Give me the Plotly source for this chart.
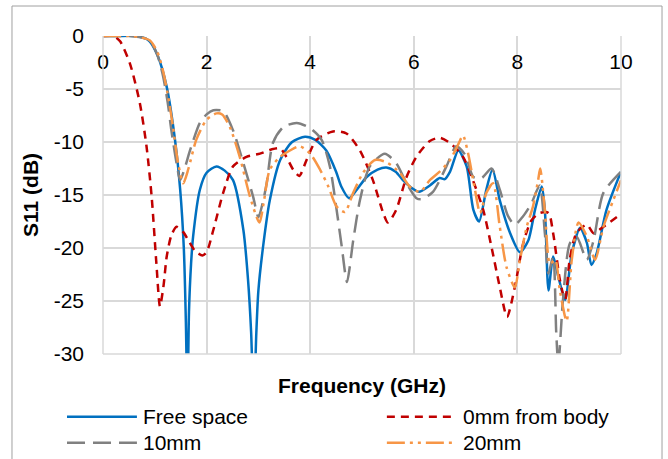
import plotly.graph_objects as go

# ---------------- data ----------------
f_free = [0, 0.3, 0.6, 0.8, 0.9, 1.05, 1.23, 1.39, 1.49, 1.56, 1.60, 1.63, 1.66, 1.70, 1.74, 1.87, 2.0, 2.19, 2.35,
          2.51, 2.71, 2.80, 2.86, 2.91, 2.96, 3.0, 3.1, 3.22, 3.42, 3.65, 3.9, 4.1, 4.31, 4.5, 4.6, 4.75, 4.9,
          5.09, 5.3, 5.47, 5.65, 5.79, 5.95, 6.1, 6.31, 6.5, 6.6, 6.7, 6.86, 7.02, 7.15, 7.26, 7.4, 7.52, 7.66,
          7.86, 8.05, 8.21, 8.34, 8.47, 8.53, 8.6, 8.69, 8.79, 8.92, 9.05, 9.21, 9.34, 9.43, 9.53, 9.72, 10.0]
s_free = [0, 0, 0, -0.2, -0.5, -1.8, -4.8, -9.8, -14.5, -20, -27, -35, -26, -21.5, -18.9, -14.5, -12.9, -12.3, -12.7,
          -13.6, -18.3, -23, -28, -35, -28, -24, -19.5, -15.5, -11.7, -10.0, -9.5, -9.8, -10.8, -12.8, -14.2, -15.3, -14.5,
          -13.3, -12.6, -12.4, -12.8, -13.6, -14.3, -14.7, -14.1, -13.4, -13.5, -12.8, -10.8, -12.3, -16.4, -17.5, -14.5, -12.6, -15.5,
          -18.6, -20.4, -19.3, -16.4, -14.2, -16.4, -24, -20.8, -22.7, -24.9, -20.5, -18.1, -19.5, -21.6, -20.5, -16.4, -12.8]

f_0mm = [0, 0.2, 0.33, 0.52, 0.71, 0.84, 0.94, 1.03, 1.1, 1.17, 1.23, 1.32, 1.42, 1.55, 1.65, 1.78, 1.92, 2.0, 2.13,
         2.32, 2.51, 2.77, 3.03, 3.25, 3.42, 3.54, 3.67, 3.79, 3.93, 4.12, 4.44, 4.7, 4.96, 5.21, 5.41, 5.5, 5.66,
         5.86, 6.05, 6.31, 6.5, 6.7, 6.95, 7.14, 7.34, 7.5, 7.66, 7.8, 7.95, 8.11, 8.27, 8.43, 8.6, 8.69, 8.82,
         8.92, 9.01, 9.14, 9.34, 9.47, 9.66, 10.0]
s_0mm = [0, 0, -0.5, -2.6, -6.3, -10.4, -15.2, -21.4, -25.5, -23.5, -20.8, -18.8, -18.0, -18.5, -19.3, -20.3, -20.7, -20.4, -18.3,
         -14.8, -12.3, -11.4, -11.1, -10.7, -10.6, -11.4, -12.6, -13.2, -11.7, -9.8, -9.0, -9.2, -10.8, -13.6, -16.7, -17.6, -16.4,
         -13.3, -11.4, -9.9, -9.6, -10.1, -11.4, -13.6, -16.4, -19.9, -23.7, -26.5, -23.7, -19.6, -17.4, -16.7, -16.7, -18.6, -23.0,
         -24.9, -21.1, -18.6, -17.8, -18.6, -18.0, -16.8]

f_10mm = [0, 0.5, 0.7, 0.9, 1.05, 1.16, 1.25, 1.32, 1.42, 1.49, 1.57, 1.68, 1.87, 2.0, 2.13, 2.32, 2.51, 2.71, 2.9,
          3.0, 3.08, 3.16, 3.28, 3.48, 3.74, 4.0, 4.22, 4.38, 4.51, 4.61, 4.71, 4.83, 4.96, 5.15, 5.44, 5.66, 5.86,
          6.05, 6.15, 6.37, 6.63, 6.82, 6.99, 7.15, 7.31, 7.5, 7.66, 7.82, 7.95, 8.11, 8.27, 8.43, 8.53, 8.6, 8.69,
          8.75, 8.79, 8.88, 9.01, 9.14, 9.34, 9.47, 9.66, 10.0]
s_10mm = [0, 0, -0.1, -0.4, -1.8, -3.8, -6.3, -8.9, -12.0, -13.6, -12.6, -10.8, -8.2, -7.4, -7.0, -7.1, -8.9, -12.0, -15.2,
          -17.1, -15.8, -13.9, -10.1, -8.6, -8.2, -8.7, -9.8, -12.3, -16.4, -19.9, -23.2, -19.3, -15.5, -12.3, -11.1, -12.0, -13.9,
          -15.3, -15.4, -14.7, -12.3, -10.4, -11.2, -13.3, -13.4, -12.5, -14.5, -17.0, -17.8, -17.0, -15.8, -14.1, -18.6, -22.4, -20.8,
          -28, -31, -24.9, -19.6, -18.9, -21.1, -19.3, -14.8, -12.8]

f_20mm = [0, 0.5, 0.7, 0.9, 1.05, 1.16, 1.25, 1.35, 1.45, 1.55, 1.65, 1.8, 2.0, 2.19, 2.3, 2.45, 2.64, 2.84, 3.02,
          3.1, 3.22, 3.42, 3.61, 3.8, 4.0, 4.19, 4.35, 4.51, 4.67, 4.83, 5.02, 5.25, 5.47, 5.73, 5.92, 6.12, 6.31,
          6.5, 6.7, 6.86, 6.95, 7.05, 7.18, 7.28, 7.4, 7.53, 7.66, 7.79, 7.95, 8.05, 8.18, 8.3, 8.4, 8.44, 8.53,
          8.63, 8.73, 8.82, 8.95, 9.05, 9.18, 9.34, 9.5, 9.66, 9.85, 10.0]
s_20mm = [0, 0, -0.1, -0.4, -1.5, -3.3, -5.5, -8.5, -12.0, -13.9, -12.5, -9.8, -7.9, -7.3, -7.4, -8.6, -11.4, -15.2, -17.6,
          -15.8, -12.6, -11.4, -10.8, -10.4, -11.1, -12.6, -14.2, -16.1, -16.6, -14.8, -12.9, -11.7, -11.9, -12.9, -14.2, -14.7, -13.6,
          -12.8, -11.7, -10.2, -9.4, -11.1, -14.5, -16.7, -14.8, -13.9, -18.0, -21.8, -23.7, -21.1, -18.0, -16.1, -13.6, -12.5, -16.4,
          -21.5, -21.1, -24.0, -26.9, -21.1, -17.6, -18.9, -21.1, -18.0, -15.5, -13.6]

series_names = ["Free space", "0mm from body", "10mm", "20mm"]
series_colors = ["#0070C0", "#C00000", "#808080", "#F79646"]
series_dash = ["solid", "8px,6px", "18px,8px", "18px,5px,3px,5px,3px,5px"]

x_ticks = [0, 2, 4, 6, 8, 10]
y_ticks = [0, -5, -10, -15, -20, -25, -30]
y_tick_text = ["0", "-5", "-10", "-15", "-20", "-25", "-30"]

FONT = "Liberation Sans, Arial, sans-serif"

fig = go.Figure()
data = [(f_free, s_free), (f_0mm, s_0mm), (f_10mm, s_10mm), (f_20mm, s_20mm)]
for (fx, sy), name, col, dash in zip(data, series_names, series_colors, series_dash):
    fig.add_trace(go.Scatter(x=fx, y=sy, mode="lines", name=name, showlegend=False,
                             line=dict(color=col, width=2.5, dash=dash, shape="spline", smoothing=0.7)))

fig.update_layout(
    width=668, height=459,
    margin=dict(l=103, r=47, t=36, b=105),
    paper_bgcolor="white", plot_bgcolor="white",
    font=dict(family=FONT, size=21, color="#000000"),
    showlegend=False,
)
fig.update_xaxes(range=[0, 10], tickvals=x_ticks, side="top", ticklabelposition="inside",
                 ticklabeloverflow="allow", ticklabelstandoff=15,
                 showgrid=True, gridcolor="#D9D9D9", gridwidth=1.5, zeroline=False,
                 showline=False, ticks="", tickfont=dict(size=21, color="#000000"), mirror=False)
fig.update_yaxes(range=[-30, 0], tickvals=y_ticks, ticktext=y_tick_text,
                 showgrid=True, gridcolor="#D9D9D9", gridwidth=1.5, zeroline=False,
                 showline=False, ticks="", ticklabelstandoff=18, tickfont=dict(size=21, color="#000000"))

# plot-area edge lines (Excel draws gridlines at the extremes)
fig.add_shape(type="line", xref="paper", yref="paper", x0=0, x1=1, y0=0, y1=0, line=dict(color="#D9D9D9", width=1.5))
fig.add_shape(type="line", xref="paper", yref="paper", x0=0, x1=0, y0=0, y1=1, line=dict(color="#D9D9D9", width=1.5))
fig.add_shape(type="line", xref="paper", yref="paper", x0=1, x1=1, y0=0, y1=1, line=dict(color="#D9D9D9", width=1.5))

# outer chart border
fig.add_shape(type="rect", xref="paper", yref="paper", x0=-0.1757, x1=1.0792, y0=-0.38, y1=1.0943,
              line=dict(color="#A0A0A0", width=1), layer="below")

# axis titles
fig.add_annotation(text="<b>Frequency (GHz)</b>", xref="paper", yref="paper", x=0.5, y=-0.0975,
                   showarrow=False, font=dict(size=21), xanchor="center", yanchor="middle")
fig.add_annotation(text="<b>S11 (dB)</b>", xref="paper", yref="paper", x=-0.141, y=0.5, textangle=-90,
                   showarrow=False, font=dict(size=21), xanchor="center", yanchor="middle")

# legend (two columns, long line samples)
leg_rows = [-0.197, -0.197, -0.279, -0.279]
leg_x0 = [-0.0695, 0.548, -0.0695, 0.548]
leg_len = 0.135
for name, col, dash, ly, lx in zip(series_names, series_colors, series_dash, leg_rows, leg_x0):
    fig.add_shape(type="line", xref="paper", yref="paper", x0=lx, x1=lx + leg_len, y0=ly, y1=ly,
                  line=dict(color=col, width=2.5, dash=dash))
    fig.add_annotation(text=name, xref="paper", yref="paper", x=lx + leg_len + 0.008, y=ly,
                       showarrow=False, xanchor="left", yanchor="middle", font=dict(size=21))

fig.write_html("out.html")
